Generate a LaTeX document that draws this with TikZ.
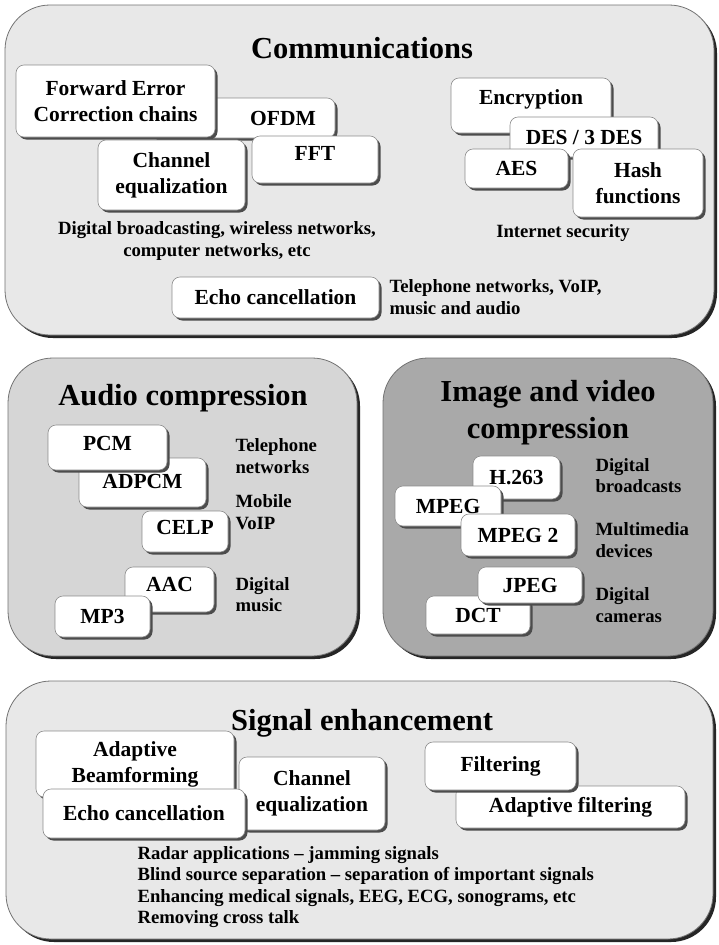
\documentclass[tikz,border=0pt]{standalone}
\usepackage{fontspec}
\setmainfont{Liberation Serif}
\usetikzlibrary{shadows}

\definecolor{paleback}{HTML}{E8E8E8}
\definecolor{audioback}{HTML}{D6D6D6}
\definecolor{videoback}{HTML}{A9A9A9}

\tikzset{
  panel/.style={draw=black!55, line width=0.8pt, rounded corners=45pt,
    drop shadow={shadow xshift=3pt, shadow yshift=-3pt, fill=black!85, opacity=1}},
  card/.style={draw=black!45, fill=white, line width=0.6pt, rounded corners=8pt,
    inner sep=0pt, align=center, font=\bfseries\fontsize{21.5}{26}\selectfont,
    drop shadow={shadow xshift=2.5pt, shadow yshift=-2.5pt, fill=black!70, opacity=1}},
  heading/.style={font=\bfseries\fontsize{30.5}{37}\selectfont, align=center},
  note/.style={font=\bfseries\fontsize{18.7}{21.5}\selectfont, align=left},
}

\begin{document}
\begin{tikzpicture}[x=1pt, y=-1pt]
    \fill[white] (0,0) rectangle (718,945);

    % panels
    \node (comms) at (359.5,170) [panel, fill=paleback, minimum width=709pt, minimum height=330pt] {};
    \node (audio) at (182.5,507) [panel, fill=audioback, minimum width=349pt, minimum height=298pt] {};
    \node (video) at (548,507) [panel, fill=videoback, minimum width=330pt, minimum height=298pt] {};
    \node (enhance) at (359.5,810) [panel, fill=paleback, minimum width=707pt, minimum height=258pt] {};

    % communications
    \node (comms_title) at (362,58) [heading, anchor=base] {Communications};
    \node (ofdm) at (242.5,118) [card, minimum width=185pt, minimum height=40pt] {\hspace*{81pt}OFDM};
    \node (fec) at (115.5,101) [card, minimum width=199pt, minimum height=72pt] {Forward Error\\Correction chains};
    \node (chan_eq) at (171.5,175) [card, minimum width=147pt, minimum height=70pt] {Channel\\equalization};
    \node (fft) at (315,159.5) [card, minimum width=126pt, minimum height=47pt, text depth=13pt] {FFT};
    \node (broadcast) at (217,241) [note, align=center] {Digital broadcasting, wireless networks,\\computer networks, etc};

    \node (encrypt) at (531,105.5) [card, minimum width=160pt, minimum height=55pt, text depth=16pt] {Encryption};
    \node (des) at (584,137) [card, minimum width=148pt, minimum height=40pt] {DES / 3 DES};
    \node (aes) at (516.5,168.5) [card, minimum width=103pt, minimum height=39pt] {AES};
    \node (hash) at (638,183) [card, minimum width=130pt, minimum height=68pt] {Hash\\functions};
    \node (security) at (563,233) [note] {Internet security};

    \node (echo) at (275.5,297.5) [card, minimum width=207pt, minimum height=41pt] {Echo cancellation};
    \node (voip) at (386,297) [note, anchor=west] {Telephone networks, VoIP,\\music and audio};

    % audio compression
    \node (audio_title) at (183,405) [heading, anchor=base] {Audio compression};
    \node (adpcm) at (142.5,482.5) [card, minimum width=127pt, minimum height=49pt, text depth=3pt] {ADPCM};
    \node (pcm) at (107.5,447.5) [card, minimum width=119pt, minimum height=45pt, text depth=9pt] {PCM};
    \node (celp) at (185,531.5) [card, minimum width=86pt, minimum height=41pt, text depth=8pt] {CELP};
    \node (aac) at (169.5,589.5) [card, minimum width=89pt, minimum height=45pt, text depth=11pt] {AAC};
    \node (mp3) at (102.5,616.5) [card, minimum width=95pt, minimum height=41pt] {MP3};
    \node (phone_net) at (232,456) [note, anchor=west] {Telephone\\networks};
    \node (mobile) at (232,512) [note, anchor=west] {Mobile\\VoIP};
    \node (music) at (232,594.5) [note, anchor=west] {Digital\\music};

    % image and video compression
    \node (video_title) at (548,413) [heading] {Image and video\\compression};
    \node (h263) at (516.5,477.5) [card, minimum width=87pt, minimum height=43pt] {H.263};
    \node (mpeg) at (448,506) [card, minimum width=106pt, minimum height=40pt] {MPEG};
    \node (mpeg2) at (518,535) [card, minimum width=114pt, minimum height=42pt] {MPEG 2};
    \node (dct) at (478,615) [card, minimum width=104pt, minimum height=38pt] {DCT};
    \node (jpeg) at (530,585) [card, minimum width=104pt, minimum height=36pt] {JPEG};
    \node (broadcasts) at (592,475.5) [note, anchor=west] {Digital\\broadcasts};
    \node (devices) at (592,540) [note, anchor=west] {Multimedia\\devices};
    \node (cameras) at (592,605) [note, anchor=west] {Digital\\cameras};

    % signal enhancement
    \node (enhance_title) at (362,730) [heading, anchor=base] {Signal enhancement};
    \node (beam) at (135,764) [card, minimum width=198pt, minimum height=66pt] {Adaptive\\Beamforming};
    \node (chan_eq2) at (312,793.5) [card, minimum width=146pt, minimum height=73pt] {Channel\\equalization};
    \node (echo2) at (144,813.5) [card, minimum width=202pt, minimum height=49pt] {Echo cancellation};
    \node (adapt_filt) at (570.5,807) [card, minimum width=229pt, minimum height=42pt] {Adaptive filtering};
    \node (filt) at (500.5,766) [card, minimum width=151pt, minimum height=48pt] {Filtering};
    \node (uses) at (134,887) [note, anchor=west] {Radar applications -- jamming signals\\Blind source separation -- separation of important signals\\Enhancing medical signals, EEG, ECG, sonograms, etc\\Removing cross talk};
\end{tikzpicture}
\end{document}
